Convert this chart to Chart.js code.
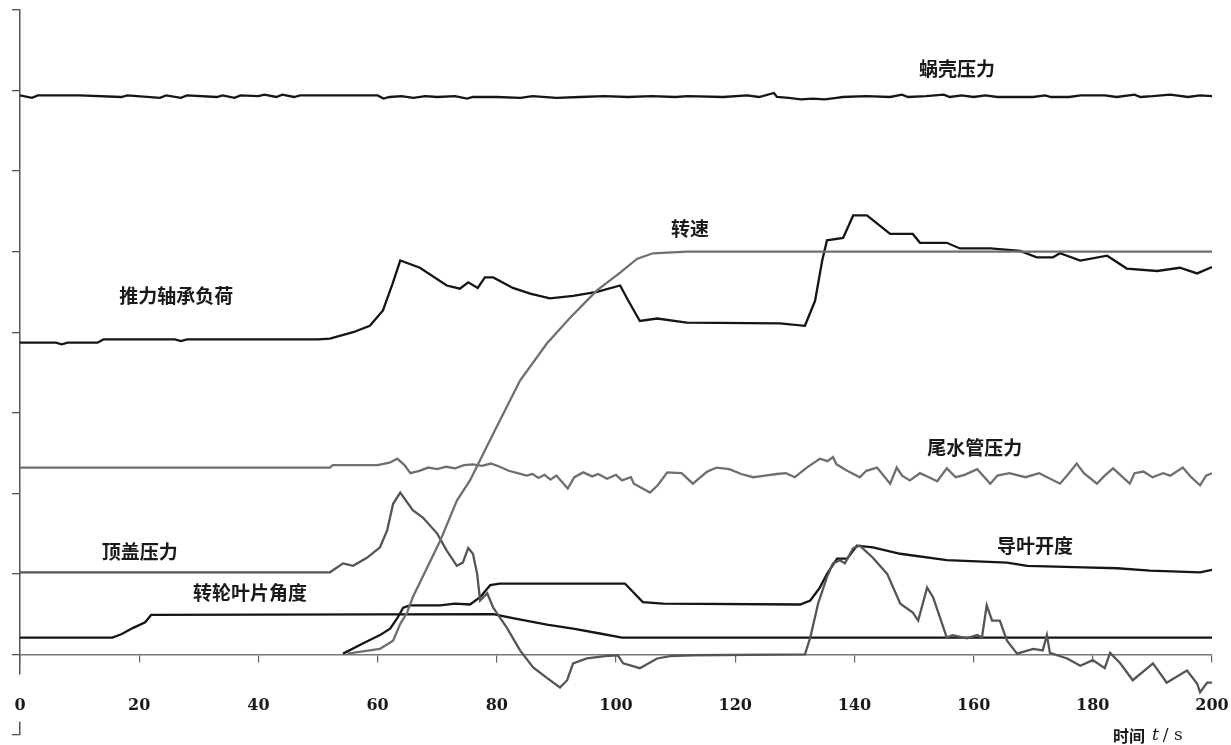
<!DOCTYPE html>
<html>
<head>
<meta charset="utf-8">
<script src="https://cdn.jsdelivr.net/npm/chart.js@4"></script>
<style>
html,body{margin:0;padding:0;background:#fff;}
#wrap{width:1231px;height:745px;position:relative;}
</style>
</head>
<body>
<div id="wrap"><canvas id="c"></canvas></div>
<script>
// x-axis ticks (time, s)
const xTicks = [0, 20, 40, 60, 80, 100, 120, 140, 160, 180, 200];

// 蜗壳压力
const voluteT = [0,2,3,10,17,18,23.5,24.5,27,28,33,34,36,37,40,41,43,44,46,47,56,60,61,62,64,66,68,70,73,75,76,80,84,86,90,94,98,102,106,110,112,118,122,124,126.5,127,129,131,133,135,137,138,142,146,148,149,152,155,156,158,160,162,164,170,172,173,176,178,182,184,187,188,190,193,196,198,200];
const voluteV = [6.94,6.91,6.94,6.94,6.92,6.94,6.91,6.94,6.91,6.94,6.92,6.94,6.91,6.94,6.93,6.95,6.92,6.95,6.92,6.94,6.94,6.94,6.90,6.92,6.93,6.91,6.93,6.92,6.93,6.90,6.92,6.92,6.91,6.93,6.91,6.92,6.93,6.92,6.93,6.92,6.93,6.92,6.94,6.92,6.97,6.92,6.91,6.89,6.90,6.89,6.91,6.92,6.93,6.92,6.95,6.92,6.93,6.95,6.92,6.94,6.92,6.94,6.92,6.92,6.94,6.92,6.92,6.94,6.94,6.92,6.95,6.92,6.93,6.95,6.92,6.94,6.93];

// 推力轴承负荷
const thrustT = [0,6,7,8,13,14,26,27,28,50,52,55.9,58.7,60.9,62.5,63.8,67.1,71.6,73.8,75.2,76.8,78.0,79.4,82.7,85.6,88.9,92.8,96.8,100.7,102,104,106.9,111.9,127.5,131.7,133.4,134.6,135.4,138.1,139.8,142.1,146,149.8,151,155.5,157.7,162.8,167.8,170.6,173.3,174.5,177.9,182.4,185.7,190.8,194.6,197.5,200];
const thrustV = [3.87,3.87,3.85,3.87,3.87,3.91,3.91,3.89,3.91,3.91,3.92,4.00,4.08,4.27,4.60,4.89,4.80,4.58,4.54,4.62,4.55,4.68,4.68,4.55,4.48,4.42,4.45,4.50,4.58,4.40,4.14,4.17,4.12,4.11,4.08,4.39,4.89,5.14,5.17,5.45,5.45,5.22,5.22,5.11,5.11,5.04,5.04,5.01,4.93,4.93,4.98,4.89,4.95,4.79,4.76,4.80,4.73,4.81];

// 转速
const speedT = [54.9,60.4,62.6,63.8,64.9,65.9,70.5,73.3,75.5,79.4,83.9,88.4,92.3,96.8,100.7,103.5,106.2,111.9,200];
const speedV = [0.01,0.07,0.17,0.38,0.51,0.71,1.41,1.91,2.16,2.74,3.40,3.86,4.18,4.52,4.74,4.91,4.98,5.00,5.00];

// 尾水管压力
const draftT = [0,52,52.5,60,62,63.3,64.5,65.5,67,68.5,70,71.5,73,74.5,76,77.5,79,80.5,82,83.5,85,86,87,88,89,90,91.9,93,94.5,96,97,98.5,100,101,102.5,103,105.7,107,108.6,111,112.9,115.3,116.9,119,121,123,125,127,128.5,130,132,134.2,135.5,136.4,137,138.8,140.9,142,143.8,146,147.1,148,149.3,151,152.5,153.9,155.5,157,158.5,160.6,162.8,164,166,168.7,171,174.5,176,177.3,178.5,180.7,182,183.4,186.2,187,188.5,190,191.8,193,195.1,196.5,198,199,200];
const draftV = [2.32,2.32,2.35,2.35,2.38,2.43,2.35,2.25,2.28,2.32,2.30,2.33,2.31,2.35,2.36,2.34,2.37,2.33,2.28,2.25,2.22,2.24,2.19,2.23,2.17,2.22,2.06,2.20,2.26,2.21,2.24,2.18,2.23,2.16,2.20,2.12,2.01,2.10,2.26,2.25,2.12,2.27,2.32,2.30,2.24,2.20,2.22,2.24,2.25,2.20,2.32,2.43,2.40,2.45,2.36,2.28,2.20,2.28,2.32,2.12,2.32,2.22,2.16,2.25,2.20,2.15,2.31,2.20,2.23,2.30,2.12,2.22,2.25,2.20,2.25,2.12,2.25,2.37,2.25,2.12,2.22,2.31,2.12,2.25,2.27,2.20,2.25,2.22,2.32,2.20,2.10,2.22,2.25];

// 顶盖压力
const coverT = [0,52.0,54.2,55.9,58.2,60.4,61.6,62.6,63.8,65.9,67.6,70.0,71.6,73.3,74.3,75.2,76.0,76.7,77.2,78.4,79.4,81.7,83.9,86.1,88.4,90.6,91.8,92.8,95.1,98.2,100.3,101.2,104.0,106.9,109.1,112.8,131.7,132.6,133.9,135.4,136.4,137.6,138.4,139.8,140.9,143.1,145.5,147.7,149.8,150.7,152.2,153.2,155.5,156.5,158.9,160.6,161.4,162.2,163.1,164.4,165.6,167.3,170.0,171.6,172.3,172.8,175.7,177.9,180.0,182.0,182.9,184.6,186.7,190.1,192.4,195.8,197.5,198.0,199.2,200];
const coverV = [1.02,1.02,1.13,1.10,1.20,1.33,1.54,1.87,2.01,1.79,1.70,1.50,1.29,1.10,1.14,1.32,1.25,1.00,0.67,0.76,0.58,0.33,0.05,-0.16,-0.29,-0.41,-0.32,-0.11,-0.05,-0.02,-0.01,-0.11,-0.17,-0.05,-0.02,-0.01,0.00,0.21,0.63,0.96,1.13,1.17,1.13,1.32,1.35,1.20,1.00,0.63,0.52,0.42,0.83,0.71,0.21,0.24,0.20,0.24,0.21,0.61,0.42,0.42,0.17,0.01,0.07,0.05,0.24,0.02,-0.05,-0.14,-0.07,-0.17,0.02,-0.11,-0.32,-0.11,-0.35,-0.20,-0.36,-0.47,-0.35,-0.35];

// 导叶开度
const guideT = [54.2,57.6,60.4,62.1,63.3,64.3,65.4,70.5,73.0,75.5,77.2,78.9,80.5,101.5,104.5,107.9,130.9,132.6,134.2,135.4,137.1,138.8,140.4,143.1,147.7,155.5,165.6,169.0,178.4,184.1,189.6,198.0,200];
const guideV = [0.01,0.14,0.24,0.32,0.45,0.58,0.61,0.61,0.63,0.62,0.71,0.86,0.88,0.88,0.65,0.63,0.62,0.67,0.83,1.00,1.19,1.19,1.35,1.33,1.25,1.17,1.14,1.10,1.08,1.07,1.04,1.02,1.05];

// 转轮叶片角度
const bladeT = [0,15.5,17,19,21,22,79.4,82.7,88.4,92.8,97.3,101,200];
const bladeV = [0.21,0.21,0.25,0.33,0.40,0.49,0.50,0.45,0.37,0.32,0.26,0.21,0.21];

// series names (drawn as in-plot annotations)
const labelTexts = ['蜗壳压力', '推力轴承负荷', '转速', '尾水管压力', '顶盖压力', '导叶开度', '转轮叶片角度'];
const labelX = [157.2, 26.2, 112.4, 160.2, 20.1, 170.3, 38.6];
const labelY = [7.27, 4.45, 5.29, 2.56, 1.28, 1.35, 0.77];

function pts(t, v) { return t.map((x, i) => ({ x: x, y: v[i] })); }

const BLACK = '#151515';
const GRAY = '#6f6f6f';
const DGRAY = '#555555';

const labelPlugin = {
  id: 'seriesLabels',
  afterDatasetsDraw(chart) {
    const ctx = chart.ctx;
    const xs = chart.scales.x, ys = chart.scales.y;
    ctx.save();
    ctx.fillStyle = '#1a1a1a';
    ctx.font = '600 19px "Noto Sans CJK SC", sans-serif';
    ctx.textAlign = 'center';
    ctx.textBaseline = 'middle';
    labelTexts.forEach((t, i) => {
      ctx.fillText(t, xs.getPixelForValue(labelX[i]), ys.getPixelForValue(labelY[i]));
    });
    // axis title: 时间 t / s
    const yb = ys.getPixelForValue(-1) + 1;
    let x = chart.chartArea.right - 99;
    ctx.textAlign = 'left';
    ctx.font = 'bold 16px "Noto Sans CJK SC", sans-serif';
    ctx.fillText('时间', x, yb);
    x += ctx.measureText('时间').width + 7;
    ctx.font = 'italic 17px "DejaVu Serif", serif';
    ctx.fillText('t', x, yb);
    x += ctx.measureText('t').width + 4;
    ctx.font = '17px "DejaVu Serif", serif';
    ctx.fillText('/ s', x, yb);
    ctx.restore();
  }
};

const ds = (label, t, v, color) => ({
  label, data: pts(t, v), borderColor: color, borderWidth: 2.3,
  pointRadius: 0, tension: 0, fill: false, spanGaps: false
});

new Chart(document.getElementById('c'), {
  type: 'line',
  data: {
    datasets: [
      ds('蜗壳压力', voluteT, voluteV, BLACK),
      ds('转速', speedT, speedV, GRAY),
      ds('尾水管压力', draftT, draftV, GRAY),
      ds('顶盖压力', coverT, coverV, DGRAY),
      ds('推力轴承负荷', thrustT, thrustV, BLACK),
      ds('导叶开度', guideT, guideV, BLACK),
      ds('转轮叶片角度', bladeT, bladeV, BLACK)
    ]
  },
  options: {
    responsive: true,
    maintainAspectRatio: false,
    animation: false,
    layout: { padding: { left: 12, right: 19, top: 10, bottom: 10 } },
    plugins: { legend: { display: false }, tooltip: { enabled: false } },
    scales: {
      x: {
        type: 'linear',
        position: { y: 0 },
        min: 0, max: 200,
        afterBuildTicks: (s) => { s.ticks = xTicks.map(v => ({ value: v })); },
        afterFit: (s) => { s.paddingLeft = 0; s.paddingRight = 0; },
        grid: { display: true, drawOnChartArea: false, drawTicks: true, tickLength: 7, color: '#666', lineWidth: 1.2 },
        border: { display: true, color: '#777', width: 1.5 },
        ticks: {
          z: 1,
          padding: 35, color: '#1a1a1a', font: { family: 'DejaVu Serif', size: 16, weight: 'bold' }, maxRotation: 0,
          showLabelBackdrop: true,
          backdropColor: (c) => (c.index === 0 ? '#ffffff' : 'rgba(255,255,255,0)'),
          backdropPadding: { top: 22, bottom: 6, left: 0, right: 0 }
        },
        title: { display: false }
      },
      y: {
        type: 'linear',
        min: -1, max: 8,
        ticks: { stepSize: 1, display: false },
        grid: { display: true, drawOnChartArea: false, drawTicks: true, tickLength: 8, color: '#555', lineWidth: 1.3 },
        border: { display: true, color: '#555', width: 1.5 }
      }
    }
  },
  plugins: [labelPlugin]
});
</script>
</body>
</html>
